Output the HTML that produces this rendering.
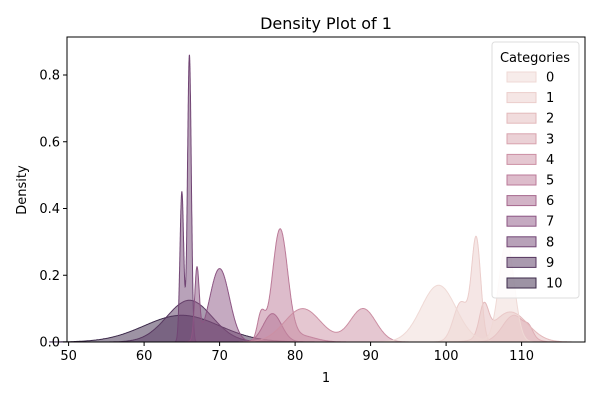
<!DOCTYPE html>
<html><head><meta charset="utf-8"><style>
body{margin:0;background:#fff;}
svg text{font-family:"DejaVu Sans","Liberation Sans",sans-serif;fill:#000;}
</style></head><body>
<svg id="chart" width="600" height="400" viewBox="0 0 600 400">
<text x="326" y="29" font-size="16" text-anchor="middle">Density Plot of 1</text>
<g id="marks"></g>
<rect x="67" y="37" width="518" height="305" fill="none" stroke="#000" stroke-width="1"/>
<g id="axes"></g>
<text x="326" y="382" font-size="13" text-anchor="middle">1</text>
<text x="26" y="190" font-size="13" text-anchor="middle" transform="rotate(-90 26 190)">Density</text>
<g id="legend"></g>
</svg>
<script>
// data: per category Gaussian components
const categories = ["0","1","2","3","4","5","6","7","8","9","10"];
const compMeans = [[99,108],[102,104],[105,108.5],[109,111],[81,89],[75.5,78,80.5],[77],[67,70],[65,66],[66],[65]];
const compPeaks = [[0.17,0.3],[0.12,0.3],[0.09,0.09],[0.08,0.02],[0.1,0.1],[0.08,0.33,0.02],[0.085],[0.21,0.22],[0.45,0.86],[0.125],[0.08]];
const compSds = [[2.3,1.0],[1.0,0.6],[0.6,2.3],[1.5,0.5],[2.4,1.7],[0.5,1.0,2],[1.2],[0.3,1.3],[0.25,0.25],[3.0],[5.0]];
const xTicks = [50,60,70,80,90,100,110];
const yTicks = [0,0.2,0.4,0.6,0.8];
const colors = ["#efd9d5","#ebcdcb","#e3b9bb","#d8a3ae","#cc8fa3","#bb7a98","#a5678d","#8c5583","#714574","#56365f","#3b2849"];
const NS="http://www.w3.org/2000/svg";
const xs=v=>68.6+(v-50)*7.55;
const ys=v=>342-v*333.75;
function mk(t,a,p){const e=document.createElementNS(NS,t);for(const k in a)e.setAttribute(k,a[k]);p.appendChild(e);return e;}
const marks=document.getElementById('marks'),axes=document.getElementById('axes'),leg=document.getElementById('legend');
for(let c=categories.length-1;c>=0;c--){
  const ms=compMeans[c],ps=compPeaks[c],ss=compSds[c];
  let lo=Math.min(...ms.map((m,i)=>m-3.5*ss[i])),hi=Math.max(...ms.map((m,i)=>m+3.5*ss[i]));
  let d=`M${xs(lo).toFixed(1)},${ys(0)}`;
  for(let i=0;i<=400;i++){const x=lo+(hi-lo)*i/400;let y=0;ms.forEach((m,j)=>{y+=ps[j]*Math.exp(-0.5*((x-m)/ss[j])**2);});d+=`L${xs(x).toFixed(1)},${ys(y).toFixed(1)}`;}
  d+=`L${xs(hi).toFixed(1)},${ys(0)}Z`;
  const p=mk('path',{d:d,fill:colors[c],'fill-opacity':0.5,stroke:colors[c],'stroke-width':1},marks);
  
  
}
xTicks.forEach(t=>{const x=xs(t);
  const l=mk('line',{x1:x,x2:x,y1:342,y2:346,stroke:'#000'},axes);
  
  const tx=mk('text',{x:x,y:360,'font-size':13,'text-anchor':'middle'},axes);tx.textContent=t;
  });
yTicks.forEach(t=>{const y=ys(t);
  const l=mk('line',{x1:63,x2:67,y1:y,y2:y,stroke:'#000'},axes);
  
  const tx=mk('text',{x:60,y:y+4.5,'font-size':13,'text-anchor':'end'},axes);tx.textContent=t.toFixed(1);
  });
const box=mk('rect',{x:492,y:42,width:87,height:256,rx:3,fill:'#fff','fill-opacity':0.85,stroke:'#ddd'},leg);

const lt=mk('text',{x:535,y:62,'font-size':13,'text-anchor':'middle'},leg);lt.textContent='Categories';

categories.forEach((c,i)=>{const y=77+i*20.6;
  const g=mk('g',{},leg);
  
  mk('rect',{x:507,y:y-5,width:29,height:10,fill:colors[i],'fill-opacity':0.5,stroke:colors[i]},g);
  const t=mk('text',{x:546,y:y+4.5,'font-size':13},g);t.textContent=c;});
</script>
</body></html>
